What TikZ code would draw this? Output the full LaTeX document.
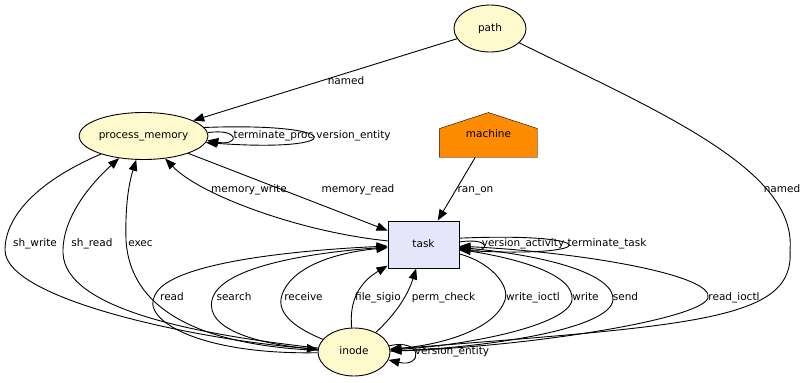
\documentclass[tikz,border=0pt]{standalone}
\usepackage{fontspec}
\setmainfont{DejaVu Sans}
\usepackage{tikz}
\usetikzlibrary{arrows.meta, backgrounds, shapes.geometric}
\definecolor{entity}{RGB}{255, 250, 205}
\definecolor{activity}{RGB}{230, 230, 250}
\definecolor{agent}{RGB}{255, 140, 0}

\begin{document}
\begin{tikzpicture}[x=1pt, y=-1pt, line width=0.9pt,
  every node/.style={font=\fontsize{10.5}{12}\selectfont, inner sep=0pt,
    text height=7.6pt, text depth=2.4pt},
  ent/.style={ellipse, draw, fill=entity, minimum width=72pt, minimum height=47pt},
  act/.style={rectangle, draw, fill=activity, minimum width=71pt, minimum height=47pt},
  agt/.style={rectangle, minimum width=97pt, minimum height=44pt},
  rel/.style={-{Triangle[length=11pt, width=8.5pt]}},
  lbl/.style={}]
  \useasboundingbox (0, 0) rectangle (807, 383);

  % nodes, one per rank
  \node[ent] (path) at (490, 28.5) {path};
  \node[ent, minimum width=129pt] (memory) at (143.5, 136) {process\_memory};
  \node[agt] (machine) at (488.5, 135) {machine};
  \node[act] (task) at (423.5, 244.5) {task};
  \node[ent, minimum height=48pt] (inode) at (354, 352) {inode};

  \begin{scope}[on background layer]
    \filldraw[fill=agent] (machine.south west) -- (machine.south east)
      -- ([yshift=-16pt]machine.north east) -- (machine.north)
      -- ([yshift=-16pt]machine.north west) -- cycle;
  \end{scope}

  % path
  \draw[rel] (path) -- (memory) node[lbl] (l-named1) at (346, 82) {named};
  \draw[rel] (path) .. controls (660, 112) and (797, 170) .. (790, 250)
    .. controls (795, 320) and (700, 325) .. (inode)
    node[lbl] (l-named2) at (782, 190) {named};

  % process_memory
  \draw[rel] (memory.3) .. controls (240, 128) and (240, 146) .. (memory.-4)
    node[lbl] (l-termproc) at (273.5, 136) {terminate\_proc};
  \draw[rel] (memory.8) .. controls (349, 122) and (349, 153) .. (memory.-6)
    node[lbl] (l-verent1) at (353.5, 136) {version\_entity};
  \draw[rel] (memory) -- (task) node[lbl] (l-memread) at (358, 190) {memory\_read};
  \draw[rel] (task) .. controls (300, 232) and (200, 195) .. (memory)
    node[lbl] (l-memwrite) at (249, 190) {memory\_write};
  \draw[rel] (memory) .. controls (40, 180) and (5, 215) .. (5, 250)
    .. controls (5, 300) and (200, 340) .. (inode)
    node[lbl] (l-shwrite) at (35, 244) {sh\_write};
  \draw[rel] (inode) .. controls (200, 335) and (65, 310) .. (63, 253)
    .. controls (62, 215) and (95, 180) .. (memory)
    node[lbl] (l-shread) at (92, 244) {sh\_read};
  \draw[rel] (inode) .. controls (200, 345) and (130, 310) .. (126, 240)
    .. controls (125, 200) and (130, 180) .. (memory)
    node[lbl] (l-exec) at (140.5, 244) {exec};

  % machine
  \draw[rel] (machine) -- (task) node[lbl] (l-ranon) at (475.5, 190) {ran\_on};

  % task
  \draw[rel] (task.4) .. controls (491, 237) and (491, 253) .. (task.-6)
    node[lbl] (l-veract) at (523, 244) {version\_activity};
  \draw[rel] (task.10) .. controls (604, 232) and (604, 258) .. (task.-9)
    node[lbl] (l-termtask) at (607, 244) {terminate\_task};
  \draw[rel] (task) .. controls (490, 262) and (510, 285) .. (505, 300)
    .. controls (495, 330) and (440, 345) .. (inode)
    node[lbl] (l-wioctl) at (533, 298) {write\_ioctl};
  \draw[rel] (task) .. controls (520, 258) and (575, 275) .. (572, 300)
    .. controls (568, 325) and (470, 345) .. (inode)
    node[lbl] (l-write) at (585.5, 298) {write};
  \draw[rel] (task) .. controls (550, 255) and (615, 275) .. (613, 300)
    .. controls (610, 330) and (480, 348) .. (inode)
    node[lbl] (l-send) at (625.5, 298) {send};

  % inode
  \draw[rel] (inode.10) .. controls (423, 338) and (423, 368) .. (inode.-13)
    node[lbl] (l-verent2) at (452, 352) {version\_entity};
  \draw[rel] (inode) .. controls (200, 355) and (140, 320) .. (155, 295)
    .. controls (170, 262) and (300, 250) .. (task)
    node[lbl] (l-read) at (172, 298) {read};
  \draw[rel] (inode) .. controls (260, 345) and (205, 330) .. (212, 300)
    .. controls (220, 265) and (320, 252) .. (task)
    node[lbl] (l-search) at (234, 298) {search};
  \draw[rel] (inode) .. controls (300, 330) and (275, 315) .. (282, 295)
    .. controls (292, 265) and (340, 252) .. (task)
    node[lbl] (l-receive) at (303.5, 298) {receive};
  \draw[rel] (inode) .. controls (349, 300) and (360, 282) .. (task)
    node[lbl] (l-sigio) at (378, 298) {file\_sigio};
  \draw[rel] (inode) .. controls (395, 315) and (408, 295) .. (task)
    node[lbl] (l-perm) at (443.5, 298) {perm\_check};
  \draw[rel] (inode) .. controls (520, 348) and (700, 320) .. (708, 298)
    .. controls (715, 275) and (580, 252) .. (task)
    node[lbl] (l-rioctl) at (734, 298) {read\_ioctl};
\end{tikzpicture}
\end{document}
